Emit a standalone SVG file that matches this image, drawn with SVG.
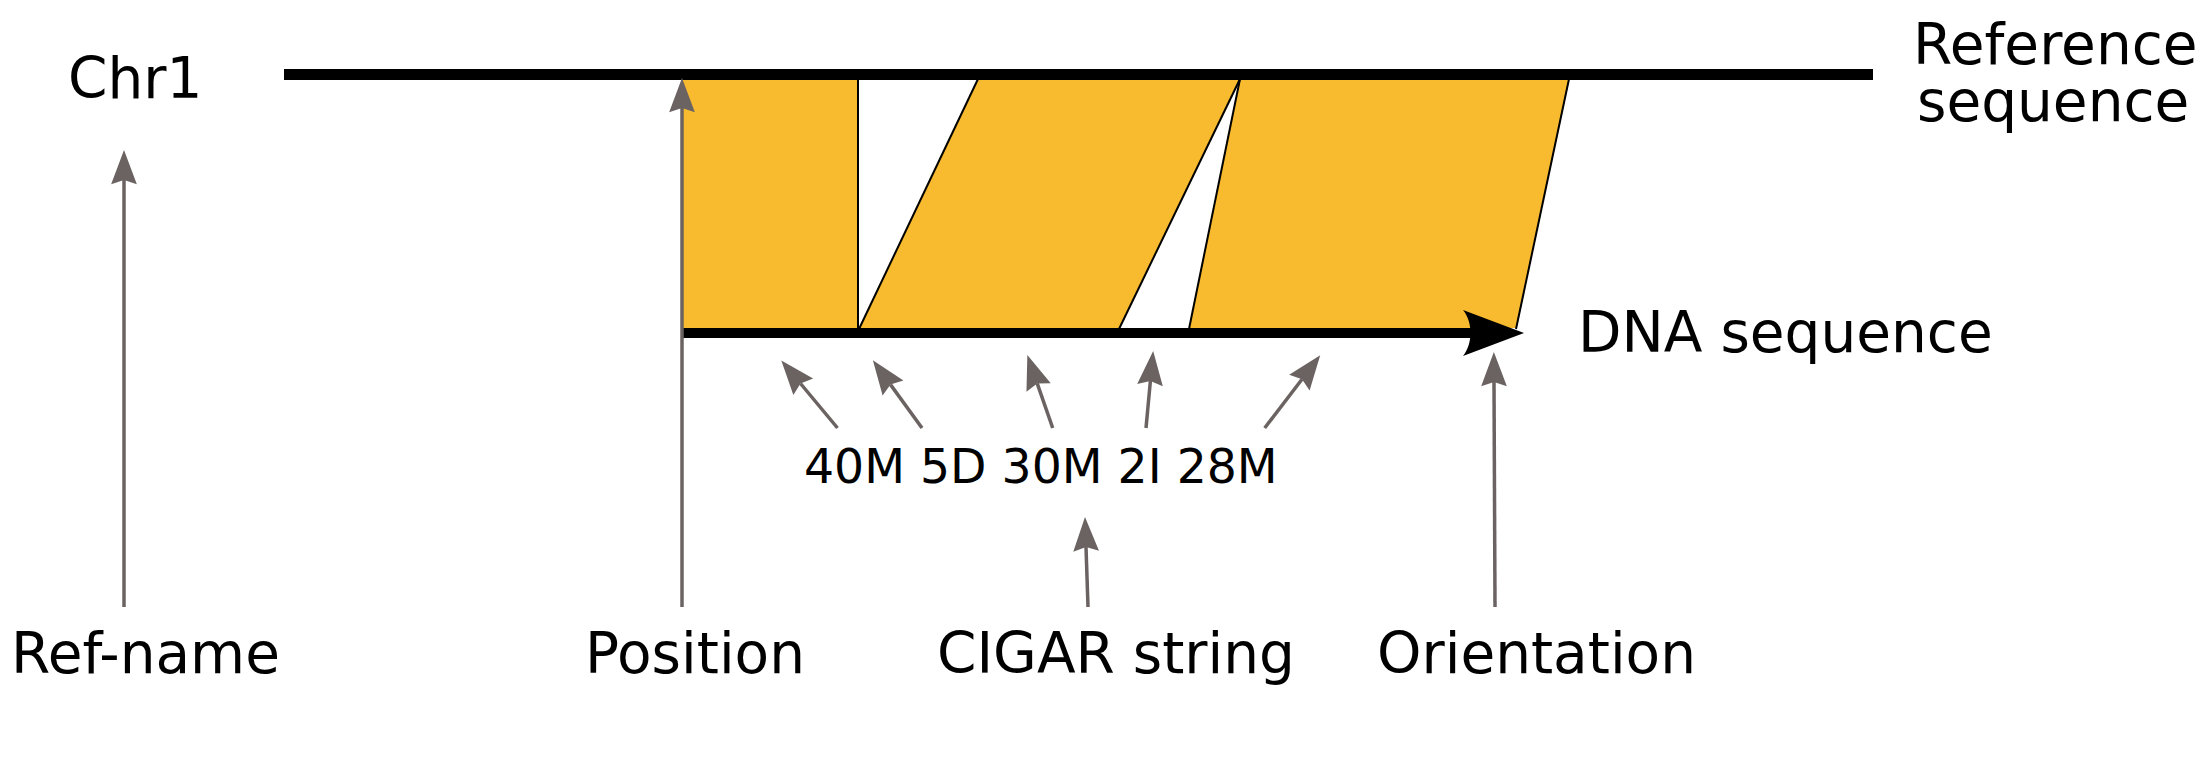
<svg xmlns="http://www.w3.org/2000/svg" width="2206" height="768" viewBox="0 0 2206 768">
<style>
text{font-family:"DejaVu Sans","Liberation Sans",sans-serif;fill:#000}
.big{font-size:56.5px}
.mid{font-size:47.3px}
.seg{fill:#f8ba2f;stroke:none}
.edge{stroke:#000;stroke-width:2;fill:none}
.conn{stroke:#6b6362;stroke-width:3.5;fill:none}
</style>
<defs>
<marker id="ah" markerUnits="userSpaceOnUse" markerWidth="40" markerHeight="30" viewBox="-6 -14 36 28" refX="0" refY="0" orient="auto">
<path d="M28,0 L-4,-12 L0,0 L-4,12 Z" fill="#6b6362"/>
</marker>
</defs>
<rect width="2206" height="768" fill="#fff"/>
<g id="alignment">
<polygon class="seg" points="683,79 858,79 858,328 683,328"/>
<polygon class="seg" points="978,79 1240,79 1119,328 859,328"/>
<polygon class="seg" points="1240,79 1569,79 1516,328 1189,328"/>
<line class="edge" x1="858" y1="79" x2="858" y2="329"/>
<line class="edge" x1="978" y1="79" x2="859" y2="329"/>
<line class="edge" x1="1240" y1="79" x2="1119" y2="329"/>
<line class="edge" x1="1240" y1="79" x2="1189" y2="329"/>
<line class="edge" x1="1569" y1="79" x2="1516" y2="329"/>
</g>
<g id="reference-line">
<line x1="284" y1="74.5" x2="1873" y2="74.5" stroke="#000" stroke-width="11"/>
</g>
<g id="dna-line">
<line x1="683" y1="333" x2="1472" y2="333" stroke="#000" stroke-width="10"/>
<path d="M1524,333 L1463,310 C1473,322 1473,344 1463,356 Z" fill="#000"/>
</g>
<g id="label-chr1"><text class="big" x="68" y="98">Chr1</text></g>
<g id="label-reference"><text class="big" x="1913" y="64">Reference</text><text class="big" x="1917" y="121">sequence</text></g>
<g id="label-dna"><text class="big" x="1578" y="352">DNA sequence</text></g>
<g id="label-cigar-ops"><text class="mid" x="804" y="483">40M 5D 30M 2I 28M</text></g>
<g id="label-refname"><text class="big" x="11" y="673">Ref-name</text></g>
<g id="label-position"><text class="big" x="585" y="673">Position</text></g>
<g id="label-cigar"><text class="big" x="937" y="673">CIGAR string</text></g>
<g id="label-orientation"><text class="big" x="1377" y="673">Orientation</text></g>
<g id="connectors">
<line class="conn" x1="124" y1="607" x2="124" y2="180" marker-end="url(#ah)"/>
<line class="conn" x1="682" y1="607" x2="682" y2="108" marker-end="url(#ah)"/>
<line class="conn" x1="1088" y1="607" x2="1086" y2="547" marker-end="url(#ah)"/>
<line class="conn" x1="1495" y1="607" x2="1494" y2="382" marker-end="url(#ah)"/>
<line class="conn" x1="837.5" y1="428" x2="800.5" y2="383.5" marker-end="url(#ah)"/>
<line class="conn" x1="922" y1="428" x2="890.5" y2="384.6" marker-end="url(#ah)"/>
<line class="conn" x1="1052.7" y1="428" x2="1037.2" y2="383.4" marker-end="url(#ah)"/>
<line class="conn" x1="1146" y1="428" x2="1150.4" y2="380.9" marker-end="url(#ah)"/>
<line class="conn" x1="1264.7" y1="428" x2="1302" y2="379.2" marker-end="url(#ah)"/>
</g>
</svg>
